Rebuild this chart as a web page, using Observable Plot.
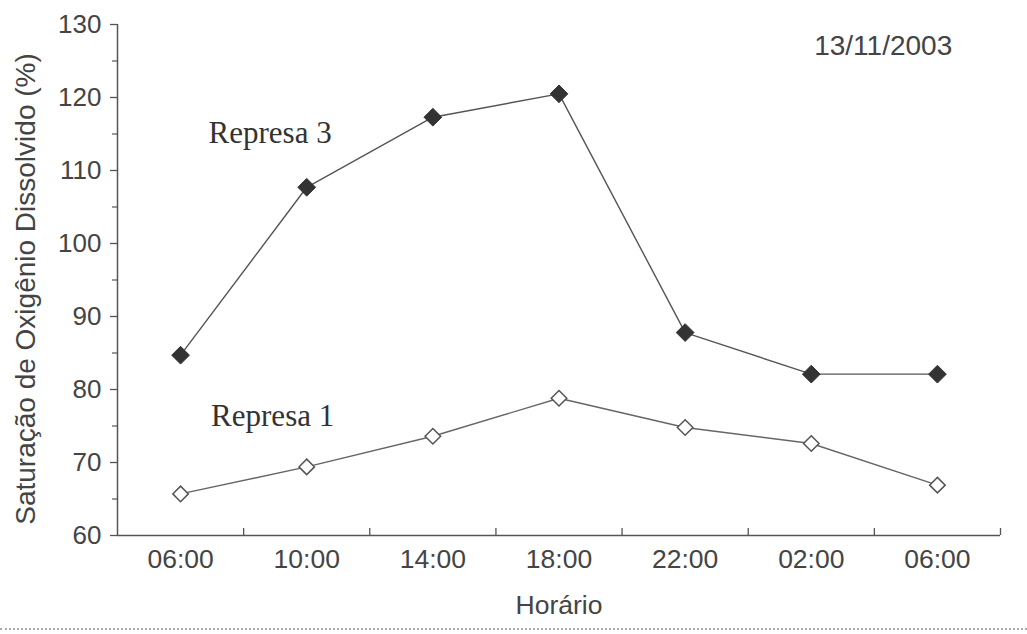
<!DOCTYPE html>
<html>
<head>
<meta charset="utf-8">
<script src="https://cdn.jsdelivr.net/npm/d3@7"></script>
<script src="https://cdn.jsdelivr.net/npm/@observablehq/plot@0.6"></script>
<style>
  html, body { margin: 0; padding: 0; background: #fff; }
  #chart { width: 1027px; }
  #chart svg { display: block; }
  #scan { width: 1027px; height: 0; border-bottom: 2px dotted #aaa; }
</style>
</head>
<body>
<div id="chart"></div>
<div id="scan"></div>
<script>
const horarios = ["06:00", "10:00", "14:00", "18:00", "22:00", "02:00", "06:00"];
const represa3 = [84.7, 107.7, 117.3, 120.5, 87.8, 82.1, 82.1];
const represa1 = [65.7, 69.4, 73.6, 78.8, 74.8, 72.6, 66.9];
const yTicks = [60, 70, 80, 90, 100, 110, 120, 130];
const yMinor = [65, 75, 85, 95, 105, 115, 125];
const xBoundaries = [1, 2, 3, 4, 5, 6, 7];
const labels = [
  {text: "Represa 3", x: 1.21, y: 115.1},
  {text: "Represa 1", x: 1.23, y: 76.4}
];
const dateLabel = [{text: "13/11/2003", x: 6.07, y: 127.1}];

const pos = horarios.map((h, i) => i + 0.5);
const d3rows = represa3.map((v, i) => ({x: pos[i], y: v}));
const d1rows = represa1.map((v, i) => ({x: pos[i], y: v}));

const axisColor = "#555";
const textColor = "#444";

const chart = Plot.plot({
  width: 1027,
  height: 628,
  marginLeft: 117,
  marginRight: 27,
  marginTop: 24,
  marginBottom: 93,
  style: {fontFamily: "'Liberation Sans', Arial, sans-serif", color: textColor, background: "#fff"},
  x: {domain: [0, 7], axis: null},
  y: {domain: [60, 130], axis: null},
  marks: [
    // axis lines
    Plot.ruleX([0], {y1: 60, y2: 130, stroke: axisColor, strokeWidth: 1.5}),
    Plot.ruleY([60], {x1: 0, x2: 7, stroke: axisColor, strokeWidth: 1.5}),
    // y axis major ticks + labels
    Plot.axisY({ticks: yTicks, tickSize: 7, tickPadding: 9, fontSize: 26, stroke: axisColor, strokeWidth: 1.3, color: textColor, label: null, tickFormat: d => String(d)}),
    // y minor ticks
    Plot.axisY({ticks: yMinor, tickSize: 5, tickFormat: null, text: null, stroke: axisColor, strokeWidth: 1.2, label: null}),
    // x ticks at band boundaries, pointing inward
    Plot.ruleX(xBoundaries, {x: d => d, y1: 60, y2: 60 + 7 / 7.3, stroke: axisColor, strokeWidth: 1.3}),
    // x labels
    Plot.axisX({ticks: pos, tickSize: 0, tickPadding: 14, fontSize: 26.5, color: textColor, tickFormat: (d, i) => horarios[i], label: null}),
    // axis titles
    Plot.text(["Horário"], {frameAnchor: "bottom", textAnchor: "middle", lineAnchor: "bottom", dy: 78, fontSize: 26.5, fill: textColor, text: d => d}),
    Plot.text(["Saturação de Oxigênio Dissolvido (%)"], {frameAnchor: "left", textAnchor: "middle", lineAnchor: "middle", dx: -91, dy: 9, rotate: -90, fontSize: 28, fill: textColor, text: d => d}),
    // lines
    Plot.line(d3rows, {x: "x", y: "y", stroke: "#555", strokeWidth: 1.4}),
    Plot.line(d1rows, {x: "x", y: "y", stroke: "#666", strokeWidth: 1.4}),
    // markers
    Plot.dot(d3rows, {x: "x", y: "y", symbol: "diamond2", r: 8, fill: "#333", stroke: "#333", strokeWidth: 1}),
    Plot.dot(d1rows, {x: "x", y: "y", symbol: "diamond2", r: 7, fill: "#fff", stroke: "#555", strokeWidth: 1.5}),
    // annotations
    Plot.text(labels, {x: "x", y: "y", text: "text", fontFamily: "'Liberation Serif', 'Times New Roman', serif", fontSize: 31, fill: "#333"}),
    Plot.text(dateLabel, {x: "x", y: "y", text: "text", fontSize: 28, fill: textColor})
  ]
});
document.getElementById("chart").appendChild(chart);
</script>
</body>
</html>
